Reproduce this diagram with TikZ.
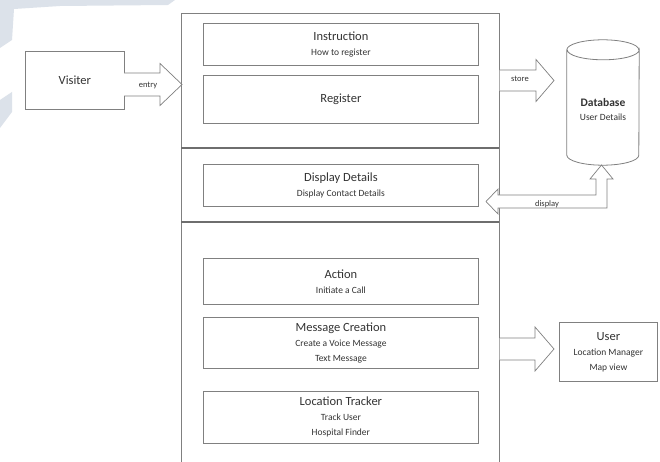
\documentclass[tikz,border=0pt]{standalone}
\usepackage{fontspec}
\setmainfont{Carlito}
\definecolor{linegray}{HTML}{808080}
\definecolor{darkline}{HTML}{6E6E6E}
\definecolor{textgray}{HTML}{333333}
\definecolor{wm}{HTML}{DCE2EA}
\newcommand\subt[1]{{\fontsize{9.5}{15}\selectfont #1}}
\newcommand\blockarrow[7]{%
  % #1 x start, #2 x tip, #3 y centre, #4 shaft half, #5 head half, #6 head length, #7 name
  \draw[arrowline] (#1,#3-#4) -- (#2-#6,#3-#4) -- (#2-#6,#3-#5) -- (#2,#3) coordinate (#7)
     -- (#2-#6,#3+#5) -- (#2-#6,#3+#4) -- (#1,#3+#4);}
\begin{document}
\begin{tikzpicture}[x=1pt,y=-1pt,
  box/.style={draw=linegray, line width=0.8pt, fill=white, inner sep=0pt, align=center,
    text=textgray, font=\fontsize{12.5}{15}\selectfont, anchor=north west},
  arrowline/.style={draw=linegray, line width=0.7pt, fill=white},
  alabel/.style={text=textgray, font=\fontsize{8.5}{9}\selectfont, inner sep=0pt},
  divider/.style={draw=darkline, line width=1.6pt}]
\useasboundingbox (0,0) rectangle (660,462);
\fill[white] (0,0) rectangle (660,462);
% faint background marks
\fill[wm] (0,0) -- (175,0) -- (168,5) -- (60,6) -- (14,9) -- (12,40) -- (0,48) -- cycle;
\fill[wm] (0,100) -- (12,92) -- (12,112) -- (0,128) -- cycle;

% outer frame
\node[inner sep=0pt, minimum width=318, minimum height=449, anchor=north west] (frame) at (181,13) {};
\draw[draw=linegray, line width=0.9pt] (frame.south west) -- (frame.north west) -- (frame.north east) -- (frame.south east);
\draw[divider] (181,148) coordinate (d1l) -- (499,148) coordinate (d1r);
\draw[divider] (181,222) coordinate (d2l) -- (499,222) coordinate (d2r);

% inner boxes
\node[box, minimum width=275, minimum height=42] (instr) at (203,23) {Instruction\\\subt{How to register}};
\node[box, minimum width=275, minimum height=48] (reg) at (203,75) {Register};
\node[box, minimum width=275, minimum height=42] (disp) at (203,164) {Display Details\\\subt{Display Contact Details}};
\node[box, minimum width=275, minimum height=46] (act) at (203,258) {Action\\\subt{Initiate a Call}};
\node[box, minimum width=275, minimum height=51] (msg) at (203,317) {Message Creation\\\subt{Create a Voice Message}\\\subt{Text Message}};
\node[box, minimum width=275, minimum height=52] (loc) at (203,391) {Location Tracker\\\subt{Track User}\\\subt{Hospital Finder}};

% visiter
\node[box, minimum width=99, minimum height=58] (vis) at (25,51) {Visiter};

% user
\node[box, minimum width=98, minimum height=59] (user) at (559,322) {User\\\subt{Location Manager}\\\subt{Map view}};

% database cylinder
\node[inner sep=0pt, minimum width=72, minimum height=125] (db) at (603,102.5) {};
\draw[draw=linegray, line width=0.8pt, fill=white]
  ([yshift=-10pt]db.north west) -- ([yshift=10pt]db.south west)
  arc[start angle=180, end angle=360, x radius=36, y radius=-10]
  -- ([yshift=-10pt]db.north east)
  arc[start angle=0, end angle=-180, x radius=36, y radius=-10];
\draw[draw=linegray, line width=0.8pt] ([yshift=-10pt]db.north west)
  arc[start angle=180, end angle=0, x radius=36, y radius=-10];
\node[text=textgray, font=\fontsize{11.5}{14}\selectfont\bfseries, align=center, inner sep=0pt] (dbt) at (603,110)
  {Database\\\subt{\mdseries User Details}};

% block arrows
\blockarrow{124}{182}{84.5}{11.5}{21}{22}{entrytip}
\node[alabel] (entry) at (148,85) {entry};
\blockarrow{499.5}{554}{80.5}{10.5}{21}{18}{storetip}
\node[alabel] (store) at (520,79) {store};
\blockarrow{499.5}{554}{349}{11}{22}{19}{usertip}

% display L-shaped arrow
\draw[arrowline] (486,201.5) coordinate (disptip) -- (498,189) -- (498,195) -- (596,195) -- (596,179)
  -- (590,179) -- (601.5,165) coordinate (dbtip) -- (613,179) -- (607,179) -- (607,208)
  -- (498,208) -- (498,214) -- cycle;
\node[alabel] (displ) at (547,204) {display};
\end{tikzpicture}
\end{document}
